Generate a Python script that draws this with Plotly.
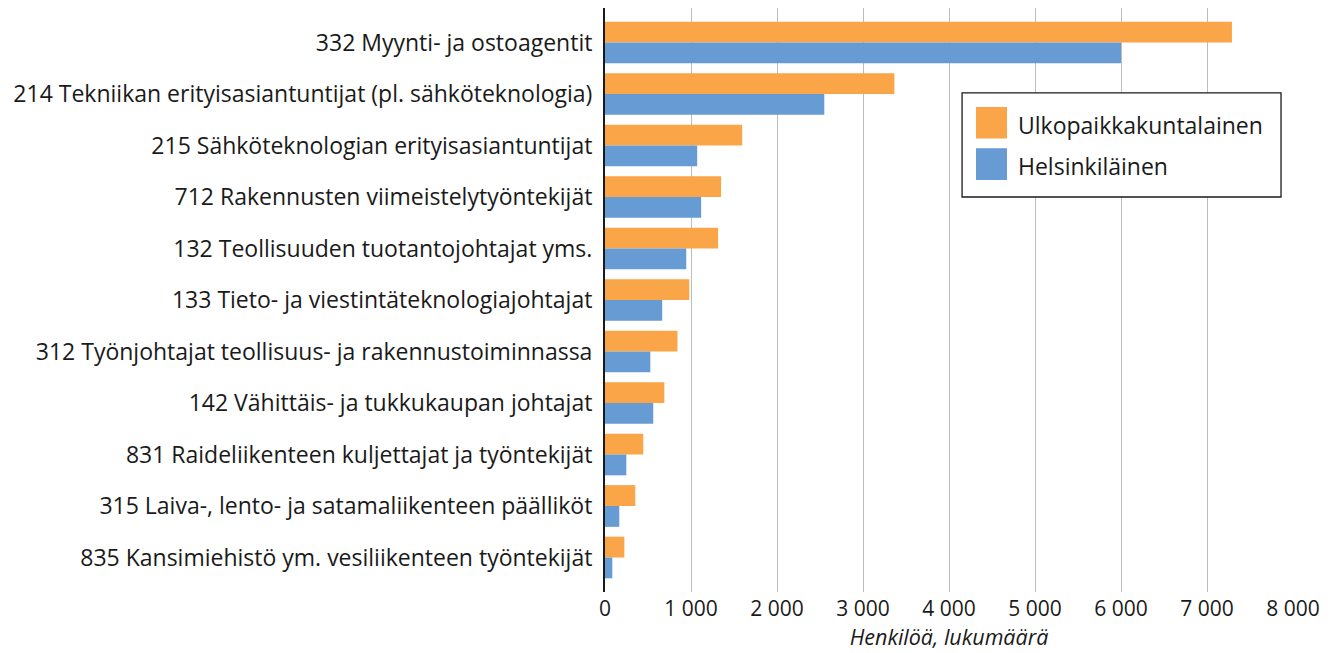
import plotly.graph_objects as go

categories = [
    "332 Myynti- ja ostoagentit",
    "214 Tekniikan erityisasiantuntijat (pl. sähköteknologia)",
    "215 Sähköteknologian erityisasiantuntijat",
    "712 Rakennusten viimeistelytyöntekijät",
    "132 Teollisuuden tuotantojohtajat yms.",
    "133 Tieto- ja viestintäteknologiajohtajat",
    "312 Työnjohtajat teollisuus- ja rakennustoiminnassa",
    "142 Vähittäis- ja tukkukaupan johtajat",
    "831 Raideliikenteen kuljettajat ja työntekijät",
    "315 Laiva-, lento- ja satamaliikenteen päälliköt",
    "835 Kansimiehistö ym. vesiliikenteen työntekijät",
]
ulkopaikkakuntalainen = [7290, 3365, 1595, 1350, 1315, 980, 843, 690, 445, 352, 225]
helsinkilainen = [6000, 2550, 1072, 1118, 945, 665, 527, 561, 248, 166, 85]

series_names = ["Ulkopaikkakuntalainen", "Helsinkiläinen"]
series_colors = ["#F9A548", "#679BD3"]

x_tickvals = [0, 1000, 2000, 3000, 4000, 5000, 6000, 7000, 8000]
x_ticktext = ["0", "1 000", "2 000", "3 000", "4 000", "5 000", "6 000", "7 000", "8 000"]

FONT = "'Open Sans', Lato, sans-serif"
TXT = "#1a1a1a"

fig = go.Figure()
for name, vals, col in zip(series_names, [ulkopaikkakuntalainen, helsinkilainen], series_colors):
    fig.add_trace(go.Bar(
        y=categories, x=vals, name=name, orientation="h",
        marker=dict(color=col, line=dict(width=0)),
        showlegend=False,
    ))

# custom legend (box, swatches, labels) in paper coordinates
lx0, lx1, ly0, ly1 = 0.519, 0.9826, 0.6764, 0.8545
fig.add_shape(type="rect", xref="paper", yref="paper", x0=lx0, x1=lx1, y0=ly0, y1=ly1,
              line=dict(color=TXT, width=1.3), fillcolor="white", layer="above")
swatch_y = [(0.7767, 0.8305), (0.7055, 0.7599)]
for (y0, y1), col, name in zip(swatch_y, series_colors, series_names):
    fig.add_shape(type="rect", xref="paper", yref="paper", x0=0.5392, x1=0.5843, y0=y0, y1=y1,
                  line=dict(width=0), fillcolor=col, layer="above")
    fig.add_annotation(xref="paper", yref="paper", x=0.598, y=(y0 + y1) / 2 - 0.004, text=name,
                       showarrow=False, xanchor="left", yanchor="middle",
                       font=dict(family=FONT, size=23, color=TXT))

fig.update_layout(
    width=1330, height=645,
    margin=dict(l=597, r=45, t=0, b=61, autoexpand=False),
    paper_bgcolor="white", plot_bgcolor="white",
    barmode="group", bargap=0.19, bargroupgap=0,
    font=dict(family=FONT, size=21, color=TXT),
    xaxis=dict(
        range=[0, 8000], tickvals=x_tickvals, ticktext=x_ticktext,
        showgrid=True, gridcolor="#BDBDBD", gridwidth=1,
        zeroline=False, showline=False, ticks="", automargin=False,
        ticklabelstandoff=2,
        tickfont=dict(family=FONT, size=21, color=TXT),
        title=dict(text="<i>Henkilöä, lukumäärä</i>", standoff=6,
                   font=dict(family=FONT, size=21.5, color=TXT)),
    ),
    yaxis=dict(
        categoryorder="array", categoryarray=categories,
        range=[10.67, -0.67], automargin=False,
        showgrid=False, zeroline=False, showline=True, linecolor=TXT, linewidth=2,
        ticks="", ticklabelstandoff=6,
        tickfont=dict(family=FONT, size=23, color=TXT),
    ),
)

fig.write_html("out.html")
